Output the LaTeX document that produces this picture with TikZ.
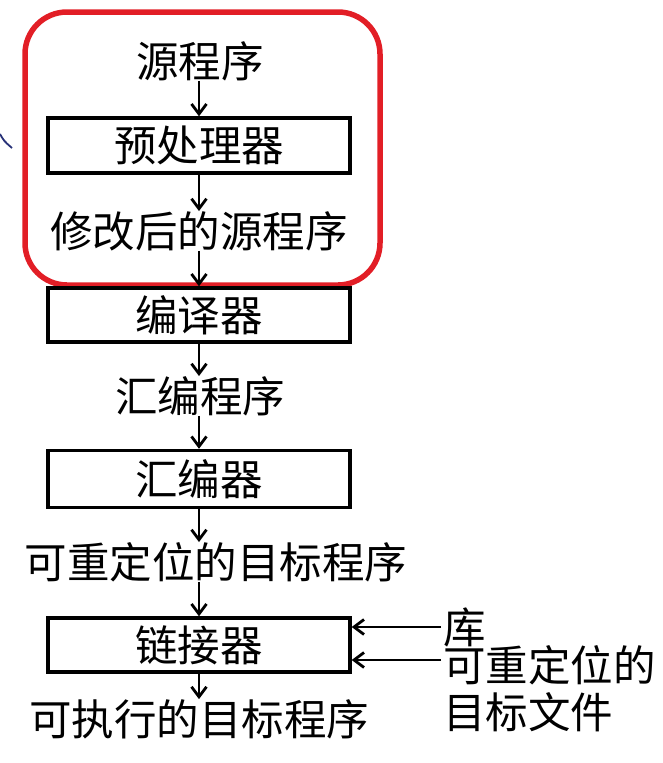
\documentclass[tikz,border=0pt]{standalone}
\usepackage{fontspec}
\newfontfamily\cjk{Noto Sans CJK SC}
\usetikzlibrary{arrows.meta}
\definecolor{hlred}{RGB}{226,30,38}
\definecolor{markblue}{RGB}{40,50,120}
\begin{document}
\begin{tikzpicture}[x=1pt,y=-1pt,
  txt/.style={font=\cjk\fontsize{42.5}{47}\selectfont, inner sep=0pt},
  stagebox/.style={draw, line width=3.4pt, minimum width=302pt, minimum height=55pt,
     font=\cjk\fontsize{42.5}{47}\selectfont, inner sep=0pt},
  arr/.style={-{Straight Barb[length=10pt,width=15pt,line width=2.8pt]}, line width=2.8pt}]
\useasboundingbox (0,0) rectangle (662,763);
% highlight frame
\draw[hlred, line width=5.5pt, rounded corners=42pt] (25,12) rectangle (380,285);
% small blue mark at left edge
\draw[markblue, line width=1.8pt] (0,134) .. controls (4,141) .. (12,148);
% nodes
\node[txt] (src) at (200,61) {源程序};
\node[stagebox] (pre) at (199,145.5) {预处理器};
\node[txt] (mod) at (199,231) {修改后的源程序};
\node[stagebox, minimum height=54pt] (comp) at (199,315) {编译器};
\node[txt] (asmp) at (200,396) {汇编程序};
\node[stagebox, minimum height=57pt] (asm) at (199,479) {汇编器};
\node[txt] (reloc) at (216,562) {可重定位的目标程序};
\node[stagebox, minimum height=54pt] (link) at (199,645) {链接器};
\node[txt] (exe) at (199,719) {可执行的目标程序};
\node[txt, anchor=base west, text height=27pt, text depth=0pt] (lib) at (443,643) {库};
\node[txt, anchor=west, align=left] (objf) at (443,689) {可重定位的\\目标文件};
\coordinate (libin) at (441,627);
\coordinate (objin) at (441,660);
% connectors
\draw[arr] (src.south -| pre.north) -- (pre.north);
\draw[arr] (pre.south) -- (mod.north -| pre.south);
\draw[arr] (mod.south -| comp.north) -- (comp.north);
\draw[arr] (comp.south) -- (asmp.north -| comp.south);
\draw[arr] (asmp.south -| asm.north) -- (asm.north);
\draw[arr] (asm.south) -- (reloc.north -| asm.south);
\draw[arr] (reloc.south -| link.north) -- (link.north);
\draw[arr] (link.south) -- (exe.north -| link.south);
\draw[arr] (libin) -- (link.east |- libin);
\draw[arr] (objin) -- (link.east |- objin);
\end{tikzpicture}
\end{document}
